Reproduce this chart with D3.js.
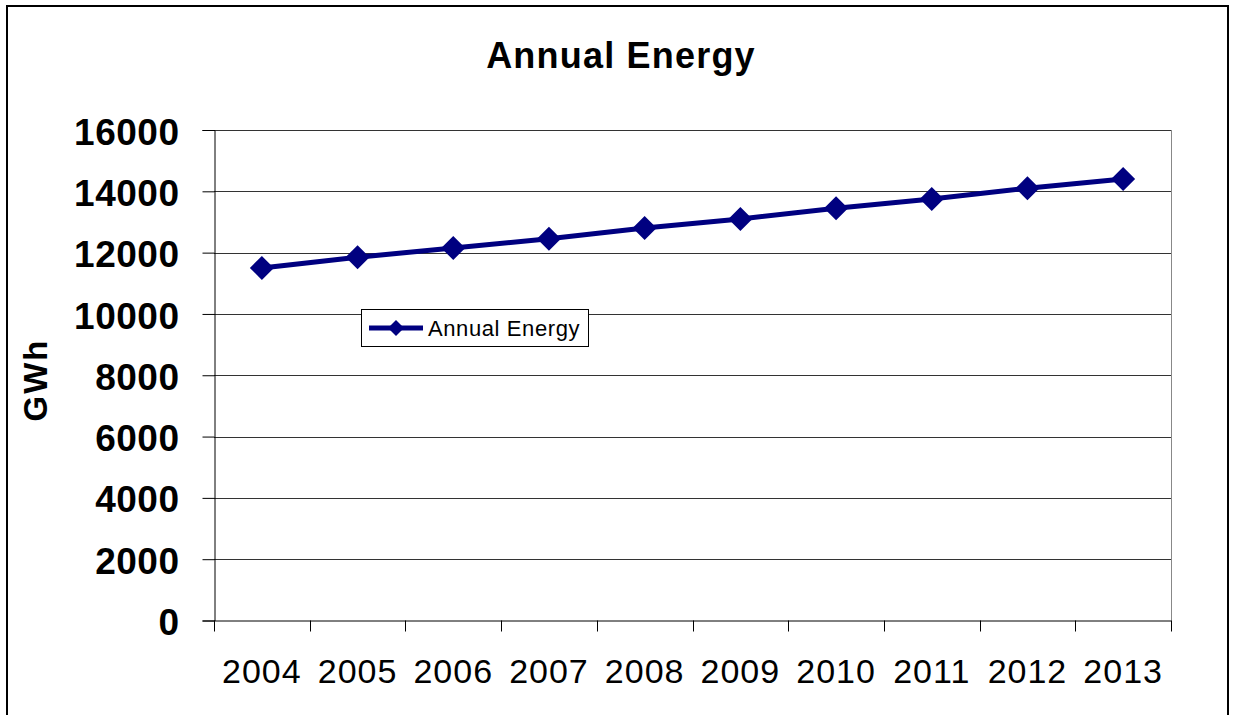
<!DOCTYPE html>
<html><head><meta charset="utf-8">
<script src="https://cdn.jsdelivr.net/npm/d3@7"></script>
<style>body{margin:0;background:#fff;} svg{display:block;font-family:"Liberation Sans",Arial,sans-serif;}</style>
</head><body>
<script>
const years = ["2004","2005","2006","2007","2008","2009","2010","2011","2012","2013"];
const energy = [11500, 11850, 12150, 12450, 12800, 13100, 13450, 13750, 14100, 14400];
const yTicks = [0,2000,4000,6000,8000,10000,12000,14000,16000];
const title = "Annual Energy";
const seriesName = "Annual Energy";
const yLabel = "GWh";

const W = 1235, H = 715;
const svg = d3.select("body").append("svg").attr("width", W).attr("height", H);
svg.append("rect").attr("x",7).attr("y",6).attr("width",1221).attr("height",720)
  .attr("fill","#fff").attr("stroke","#000").attr("stroke-width",2);

const L = 214, R = 1171, T = 130, B = 620.5;
const x = d3.scaleBand().domain(years).range([L,R]).padding(0);
const y = d3.scaleLinear().domain([0,16000]).range([B,T]);

// gridlines
svg.append("g").selectAll("line").data(yTicks.filter(d=>d>0)).join("line")
  .attr("x1",L).attr("x2",R).attr("y1",d=>Math.round(y(d))+0.5).attr("y2",d=>Math.round(y(d))+0.5)
  .attr("stroke","#333").attr("stroke-width",1);
// right border of plot
svg.append("line").attr("x1",R+0.5).attr("x2",R+0.5).attr("y1",T).attr("y2",B)
  .attr("stroke","#888").attr("stroke-width",1);

// y axis
const ya = svg.append("g").attr("transform",`translate(${L+0.5},0)`)
  .call(d3.axisLeft(y).tickValues(yTicks).tickSize(12).tickPadding(23).tickFormat(d3.format("d")));
ya.select(".domain").attr("stroke","#000");
ya.selectAll(".tick line").attr("stroke","#000");
ya.selectAll("text").attr("font-size",37).attr("font-weight","bold").attr("fill","#000")
  .attr("font-family","'Liberation Sans',Arial,sans-serif").attr("dy","0.38em").attr("letter-spacing",0.5);

// x axis
const xa = svg.append("g").attr("transform",`translate(0,${B})`)
  .call(d3.axisBottom(x).tickSize(0).tickPadding(38));
xa.select(".domain").attr("stroke","#000");
xa.selectAll("text").attr("font-size",34).attr("fill","#000").attr("letter-spacing",1)
  .attr("font-family","'Liberation Sans',Arial,sans-serif");
// category boundary ticks
const bounds = years.map(d=>x(d)).concat([R]);
svg.append("g").selectAll("line").data(bounds).join("line")
  .attr("x1",d=>Math.round(d)+0.5).attr("x2",d=>Math.round(d)+0.5).attr("y1",B).attr("y2",B+11)
  .attr("stroke","#000");

// line
const cx = d => x(d) + x.bandwidth()/2;
svg.append("path").datum(energy)
  .attr("d", d3.line().x((d,i)=>cx(years[i])).y(d=>y(d)))
  .attr("fill","none").attr("stroke","#000080").attr("stroke-width",5);
const diamond = s => `M0,${-s}L${s},0L0,${s}L${-s},0Z`;
svg.append("g").selectAll("path").data(energy).join("path")
  .attr("transform",(d,i)=>`translate(${cx(years[i])},${y(d)})`)
  .attr("d",diamond(12)).attr("fill","#000080");

// title
svg.append("text").attr("x",621).attr("y",68).attr("text-anchor","middle")
  .attr("font-size",36).attr("font-weight","bold").attr("letter-spacing",1.2).text(title);
// y label
svg.append("text").attr("transform","translate(47,380) rotate(-90)").attr("text-anchor","middle")
  .attr("font-size",33).attr("font-weight","bold").attr("letter-spacing",2).text(yLabel);

// legend
const lg = svg.append("g");
lg.append("rect").attr("x",361.5).attr("y",309.5).attr("width",227).attr("height",37)
  .attr("fill","#fff").attr("stroke","#000").attr("stroke-width",1);
lg.append("line").attr("x1",369).attr("x2",423).attr("y1",328).attr("y2",328)
  .attr("stroke","#000080").attr("stroke-width",5);
lg.append("path").attr("transform","translate(396,328)").attr("d",diamond(8)).attr("fill","#000080");
lg.append("text").attr("x",428).attr("y",336).attr("font-size",22).attr("letter-spacing",0.6).text(seriesName);
</script>
</body></html>
